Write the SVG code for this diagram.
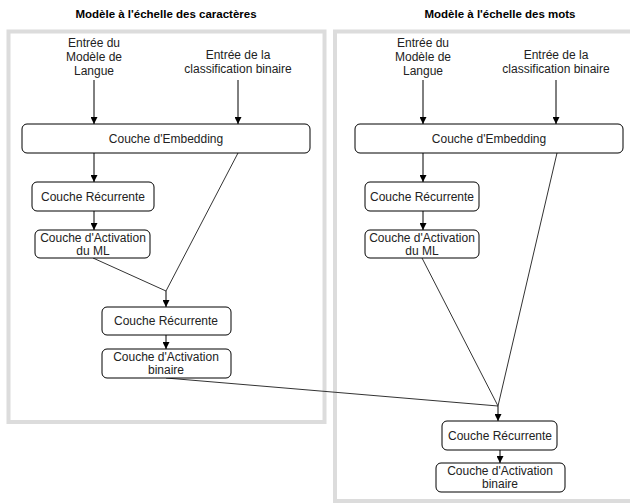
<svg xmlns="http://www.w3.org/2000/svg" width="630" height="503" viewBox="0 0 630 503">
<defs>
<marker id="arr" viewBox="0 0 10 10" refX="10" refY="5" markerWidth="7" markerHeight="7" markerUnits="userSpaceOnUse" orient="auto">
<path d="M0,0 L10,5 L0,10 z" fill="#000"/>
</marker>
<style>
.cont{fill:none;stroke:#dcdcdc;stroke-width:4}
.box{fill:#fff;stroke:#000;stroke-width:1}
.t{font-family:"Liberation Sans",Arial,sans-serif;font-size:12px;fill:#222;text-anchor:middle}
.title{font-family:"Liberation Sans",Arial,sans-serif;font-size:11.5px;font-weight:bold;fill:#000;text-anchor:middle}
.e{fill:none;stroke:#000;stroke-width:1}
.d{fill:none;stroke:#333;stroke-width:1}
</style>
</defs>
<rect width="630" height="503" fill="#fff"/>
<g id="containers">
<rect class="cont" x="8.5" y="31.5" width="316" height="390.5"/>
<rect class="cont" x="335" y="31.5" width="300" height="469.5"/>
<text class="title" x="166" y="18">Modèle à l'échelle des caractères</text>
<text class="title" x="500" y="18">Modèle à l'échelle des mots</text>
</g>
<g id="connectors">
<line class="e" x1="94" y1="80" x2="94" y2="124" marker-end="url(#arr)"/>
<line class="e" x1="238" y1="80" x2="238" y2="124" marker-end="url(#arr)"/>
<line class="e" x1="94" y1="153" x2="94" y2="182" marker-end="url(#arr)"/>
<line class="e" x1="94" y1="211" x2="94" y2="230" marker-end="url(#arr)"/>
<polyline class="d" points="93,258 166,291"/>
<polyline class="d" points="238,153 166,291"/>
<line class="e" x1="166" y1="291" x2="166" y2="307" marker-end="url(#arr)"/>
<line class="e" x1="166" y1="335" x2="166" y2="349" marker-end="url(#arr)"/>
<polyline class="d" points="166,378 498,406"/>
<line class="e" x1="423" y1="80" x2="423" y2="124" marker-end="url(#arr)"/>
<line class="e" x1="556" y1="80" x2="556" y2="124" marker-end="url(#arr)"/>
<line class="e" x1="423" y1="153" x2="423" y2="182" marker-end="url(#arr)"/>
<line class="e" x1="423" y1="211" x2="423" y2="230" marker-end="url(#arr)"/>
<polyline class="d" points="422,258 498,406"/>
<polyline class="d" points="557,153 498,406"/>
<line class="e" x1="498" y1="406" x2="498" y2="421" marker-end="url(#arr)"/>
<line class="e" x1="500" y1="450" x2="500" y2="463" marker-end="url(#arr)"/>
</g>
<g id="in-lm-c"><text class="t" x="94" y="47">Entrée du</text><text class="t" x="94" y="61">Modèle de</text><text class="t" x="94" y="75">Langue</text></g>
<g id="in-cls-c"><text class="t" x="238" y="59">Entrée de la</text><text class="t" x="238" y="73">classification binaire</text></g>
<g id="emb-c"><rect class="box" x="22" y="124" width="288" height="29" rx="5"/><text class="t" x="166" y="143">Couche d'Embedding</text></g>
<g id="rec1-c"><rect class="box" x="32" y="182" width="122" height="29" rx="5"/><text class="t" x="93" y="201">Couche Récurrente</text></g>
<g id="act-ml-c"><rect class="box" x="35" y="230" width="115" height="28" rx="5"/><text class="t" x="93" y="242">Couche d'Activation</text><text class="t" x="93" y="255">du ML</text></g>
<g id="rec2-c"><rect class="box" x="102" y="307" width="129" height="28" rx="5"/><text class="t" x="166" y="325">Couche Récurrente</text></g>
<g id="act-bin-c"><rect class="box" x="102" y="349" width="129" height="29" rx="5"/><text class="t" x="166" y="361">Couche d'Activation</text><text class="t" x="166" y="374">binaire</text></g>
<g id="in-lm-w"><text class="t" x="423" y="47">Entrée du</text><text class="t" x="423" y="61">Modèle de</text><text class="t" x="423" y="75">Langue</text></g>
<g id="in-cls-w"><text class="t" x="556" y="59">Entrée de la</text><text class="t" x="556" y="73">classification binaire</text></g>
<g id="emb-w"><rect class="box" x="355" y="124" width="268" height="29" rx="5"/><text class="t" x="489" y="143">Couche d'Embedding</text></g>
<g id="rec1-w"><rect class="box" x="365" y="182" width="114" height="29" rx="5"/><text class="t" x="422" y="201">Couche Récurrente</text></g>
<g id="act-ml-w"><rect class="box" x="365" y="230" width="114" height="28" rx="5"/><text class="t" x="422" y="242">Couche d'Activation</text><text class="t" x="422" y="255">du ML</text></g>
<g id="rec2-w"><rect class="box" x="442" y="421" width="115" height="29" rx="5"/><text class="t" x="500" y="440">Couche Récurrente</text></g>
<g id="act-bin-w"><rect class="box" x="436" y="463" width="129" height="29" rx="5"/><text class="t" x="500" y="475">Couche d'Activation</text><text class="t" x="500" y="488">binaire</text></g>
</svg>
